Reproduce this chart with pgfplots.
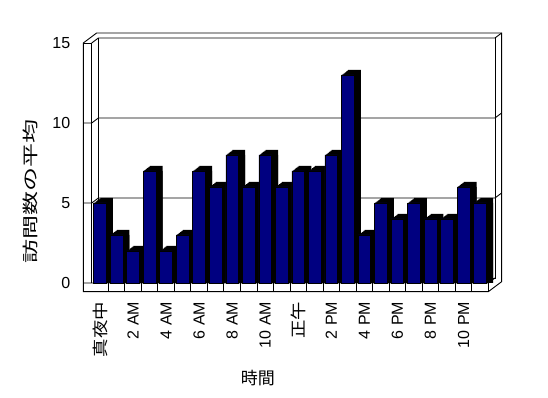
\documentclass[border=0pt]{standalone}
\usepackage{fontspec}
\setmainfont{Liberation Sans}
\newfontfamily\cjk{Noto Sans CJK JP}
\usepackage{graphicx}
\usepackage{pgfplots}
\usepackage{pgfplotstable}
\pgfplotsset{compat=1.18}
\definecolor{barblue}{RGB}{0,0,128}
\pgfplotstableread{
x y
0 5
1 3
2 2
3 7
4 2
5 3
6 7
7 6
8 8
9 6
10 8
11 6
12 7
13 7
14 8
15 13
16 3
17 5
18 4
19 5
20 4
21 4
22 6
23 5
}\data
\begin{document}
\begin{tikzpicture}[x=1pt,y=1pt]
\useasboundingbox (0,0) rectangle (548,398);
% walls and floor (decoration)
\begin{scope}[line width=0.9pt, line join=miter]
\draw (83.3,106.3) -- (83.3,355) -- (96.6,365) -- (501.6,365) -- (501.6,116.3) -- (488.3,106.3) -- cycle;
\draw (83.3,355) -- (91.7,355) -- (91.7,115);
\draw (91.7,355) -- (98.35,360) -- (494.95,360) -- (501.6,365);
\draw (98.35,360) -- (98.35,120) -- (494.95,120) -- (494.95,360);
\foreach \v in {5,10} {
  \draw (83.3,115+16*\v) -- (91.7,115+16*\v) -- (98.35,120+16*\v) -- (494.95,120+16*\v) -- (501.6,125+16*\v);
}
\draw (83.3,115) -- (488.3,115) -- (494.95,120);
\draw (488.3,115) -- (488.3,106.3);
\end{scope}
\begin{axis}[
  at={(91.7pt,115pt)}, anchor=south west,
  scale only axis, width=396.6pt, height=240pt,
  xmin=-0.5, xmax=23.5, ymin=0, ymax=15,
  clip=false,
  axis line style={draw=none},
  xtick={0,2,...,22},
  xticklabels={{\cjk\scalebox{1.15}[1]{真夜中}},2 AM,4 AM,6 AM,8 AM,10 AM,{\cjk\scalebox{1.15}[1]{正午}},2 PM,4 PM,6 PM,8 PM,10 PM},
  minor xtick={0.5,1.5,...,22.5},
  ytick={0,5,10,15},
  xtick pos=left, ytick pos=left,
  tick align=outside,
  major tick length=0pt,
  minor tick length=8.7pt,
  minor tick style={line width=0.9pt, black},
  xticklabel style={rotate=90, anchor=east, font=\fontsize{16}{16}\selectfont},
  xticklabel shift=15.4pt,
  yticklabel style={anchor=east, font=\fontsize{16}{16}\selectfont},
  yticklabel shift=17.9pt,
  /pgf/number format/assume math mode=true,
  xlabel={\cjk 時間},
  xlabel style={at={(axis description cs:0.419,-0.394)}, anchor=center, font=\fontsize{17}{17}\selectfont},
  ylabel={\cjk\scalebox{1.5}[1]{訪問数の平均}},
  ylabel style={at={(axis description cs:-0.1556,0.383)}, anchor=center, rotate=0, font=\fontsize{16}{16}\selectfont},
]
\pgfplotsinvokeforeach{1,...,7}{
  \addplot[ybar, bar width=12.7pt, bar shift={#1*0.95pt}, yshift={#1*0.714pt}, fill=black, draw=none] table[x=x,y=y] {\data};
}
\addplot[ybar, bar width=12.7pt, bar shift=6.65pt, fill=black, draw=none] table[x=x,y=y] {\data};
\addplot[ybar, bar width=12.7pt, bar shift=0pt, fill=barblue, draw=black, line width=0.6pt] table[x=x,y=y] {\data};
\end{axis}
\end{tikzpicture}
\end{document}
